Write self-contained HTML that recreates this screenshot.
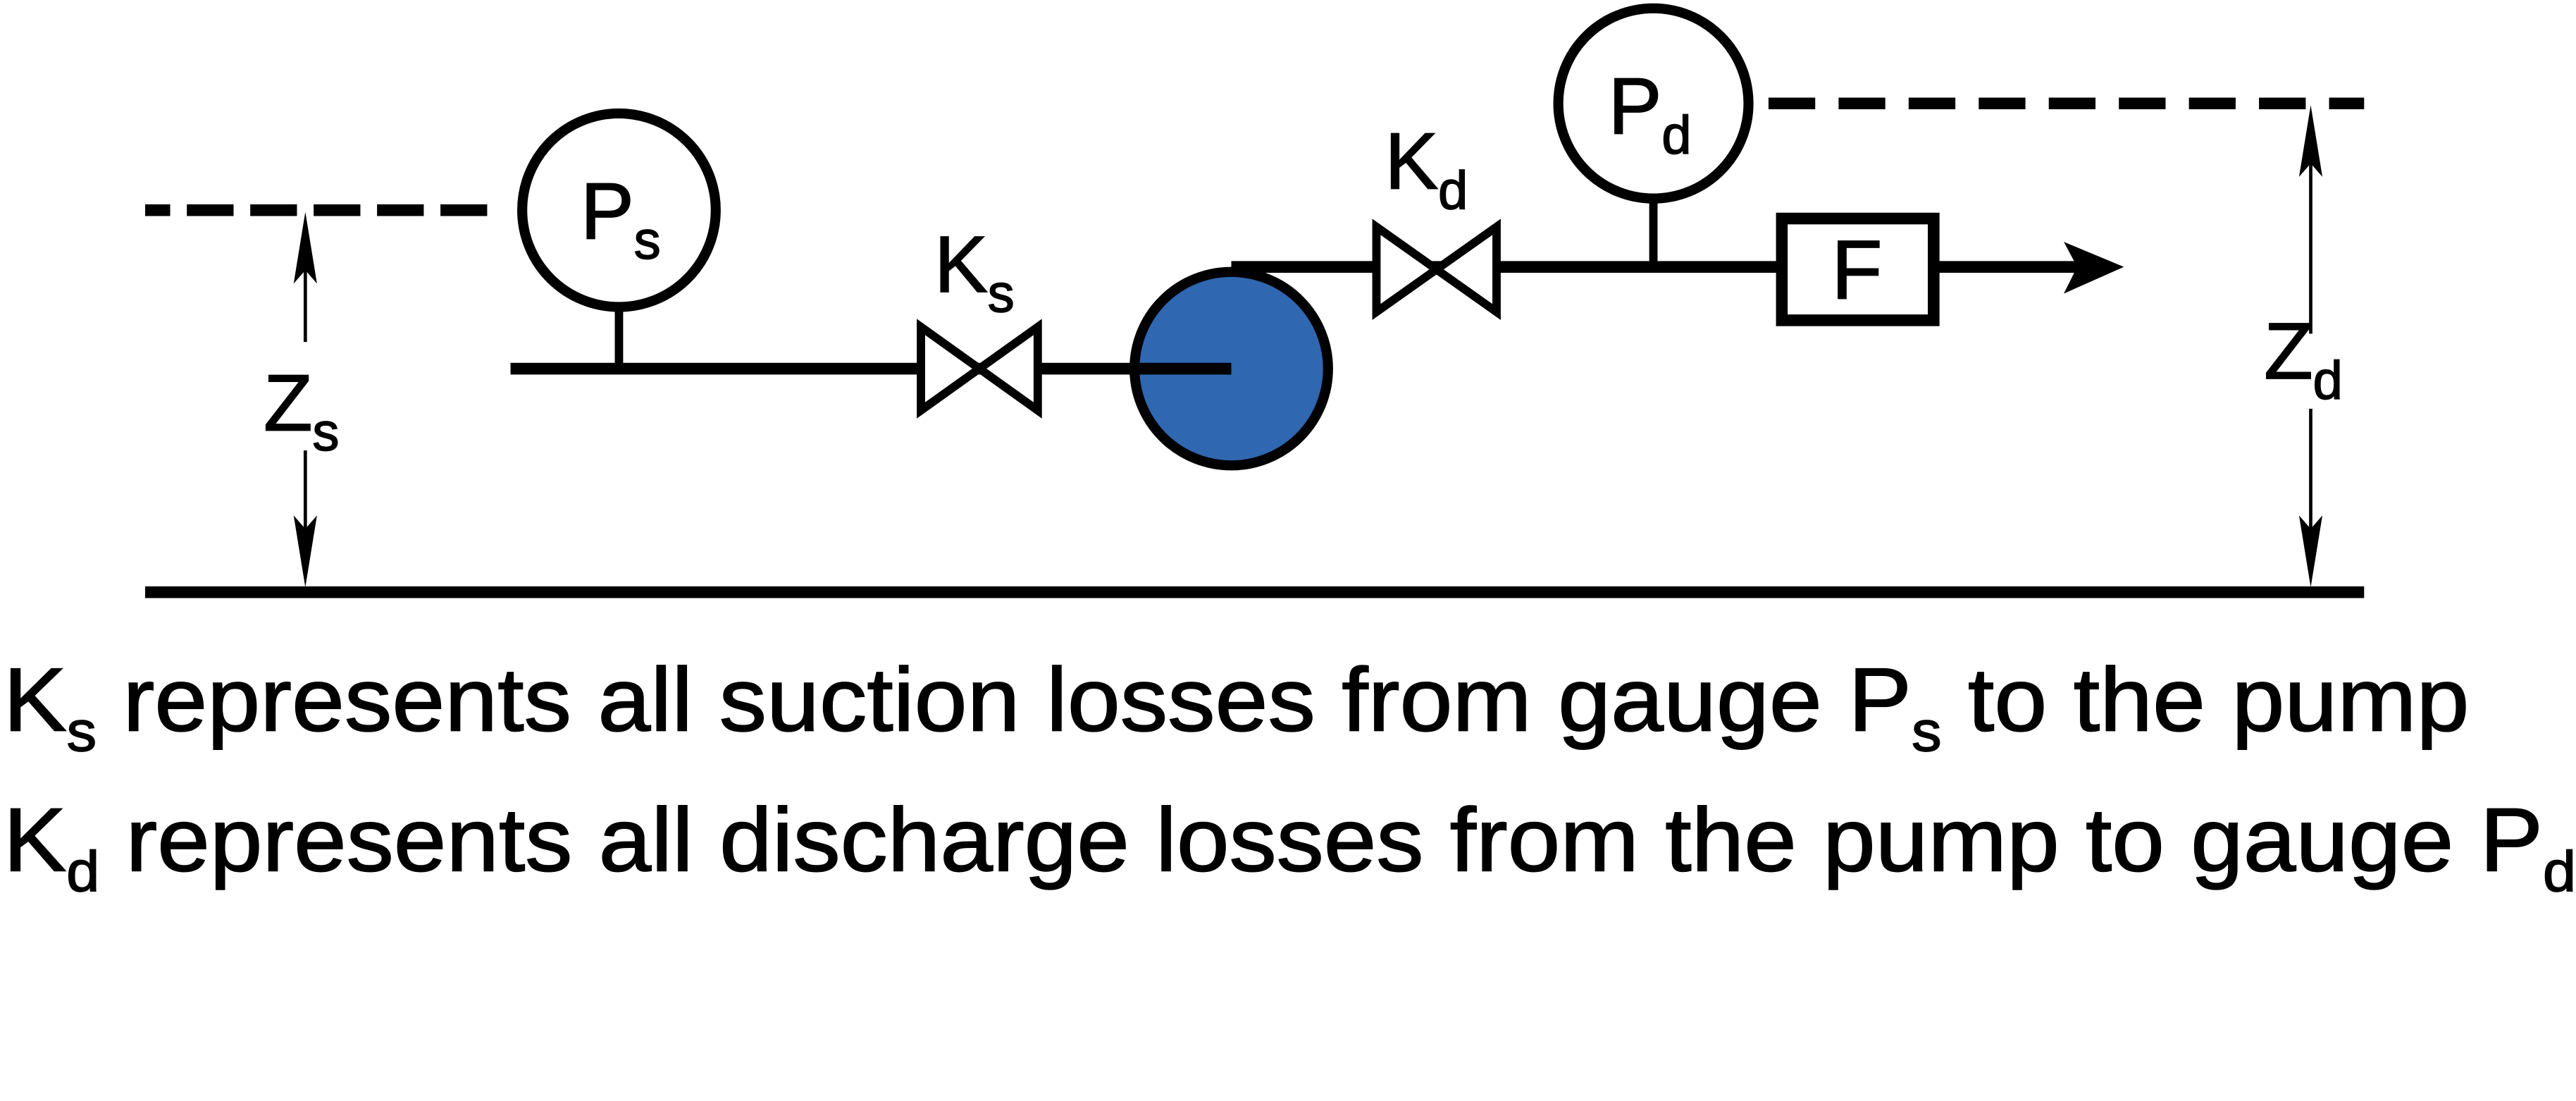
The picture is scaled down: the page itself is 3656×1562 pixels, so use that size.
<!DOCTYPE html>
<html><head><meta charset="utf-8"><style>
html,body{margin:0;padding:0;background:#fff;}
svg{display:block;}
text{font-family:"Liberation Sans",Arial,sans-serif;fill:#000;stroke:#000;stroke-width:0.7;}
</style></head><body>
<svg width="3656" height="1562" viewBox="0 0 1544 660" preserveAspectRatio="none" xmlns="http://www.w3.org/2000/svg">
<rect width="1544" height="660" fill="#fff"/>
<line x1="87" y1="355" x2="1417" y2="355" stroke="#000" stroke-width="7"/>
<line x1="87" y1="126" x2="302" y2="126" stroke="#000" stroke-width="7" stroke-dasharray="15 10 28 10 28 10 28 10 28 10 28 10"/>
<line x1="1060" y1="62" x2="1417" y2="62" stroke="#000" stroke-width="7" stroke-dasharray="28 14"/>
<line x1="306" y1="221" x2="737" y2="221" stroke="#000" stroke-width="7"/>
<line x1="371" y1="184" x2="371" y2="221" stroke="#000" stroke-width="5"/>
<circle cx="371" cy="126" r="58" fill="#fff" stroke="#000" stroke-width="6"/>
<text x="348" y="143" font-size="48">P<tspan font-size="32" dy="12">s</tspan></text>
<polygon points="552,196 622,246 622,196 552,246" fill="#fff" stroke="#000" stroke-width="5" stroke-linejoin="miter"/>
<text x="560" y="175" font-size="48">K<tspan font-size="32" dy="12">s</tspan></text>
<line x1="738" y1="160" x2="1066" y2="160" stroke="#000" stroke-width="7"/>
<circle cx="738" cy="221" r="58" fill="#2f67b1" stroke="#000" stroke-width="6"/>
<line x1="680" y1="221" x2="738" y2="221" stroke="#000" stroke-width="7"/>
<polygon points="825,136 897,187 897,136 825,187" fill="#fff" stroke="#000" stroke-width="5"/>
<text x="830" y="113" font-size="48">K<tspan font-size="32" dy="12">d</tspan></text>
<line x1="991" y1="118" x2="991" y2="160" stroke="#000" stroke-width="5"/>
<circle cx="991" cy="62" r="57" fill="#fff" stroke="#000" stroke-width="6"/>
<text x="964" y="80" font-size="48">P<tspan font-size="32" dy="12">d</tspan></text>
<rect x="1068" y="131" width="91" height="61" fill="#fff" stroke="#000" stroke-width="7"/>
<text x="1113" y="179" font-size="50" text-anchor="middle">F</text>
<line x1="1160" y1="160" x2="1250" y2="160" stroke="#000" stroke-width="7"/>
<polygon points="1273,160 1237,145 1245,160 1237,176" fill="#000"/>
<line x1="183" y1="135" x2="183" y2="205" stroke="#000" stroke-width="2"/>
<polygon points="183,127 190,170 183,162 176,170" fill="#000"/>
<text x="158" y="258" font-size="48">Z<tspan font-size="32" dy="12">s</tspan></text>
<line x1="183" y1="270" x2="183" y2="345" stroke="#000" stroke-width="2"/>
<polygon points="183,352 190,309 183,317 176,309" fill="#000"/>
<line x1="1385" y1="70" x2="1385" y2="200" stroke="#000" stroke-width="2"/>
<polygon points="1385,63 1392,106 1385,98 1378,106" fill="#000"/>
<text x="1357" y="227" font-size="48">Z<tspan font-size="32" dy="12">d</tspan></text>
<line x1="1385" y1="245" x2="1385" y2="345" stroke="#000" stroke-width="2"/>
<polygon points="1385,352 1392,309 1385,317 1378,309" fill="#000"/>
<text x="2" y="438" font-size="54" textLength="1478" lengthAdjust="spacingAndGlyphs">K<tspan font-size="34" dy="12">s</tspan><tspan dy="-12"> represents all suction losses from gauge P</tspan><tspan font-size="34" dy="12">s</tspan><tspan dy="-12"> to the pump</tspan></text>
<text x="2" y="522" font-size="54" textLength="1542" lengthAdjust="spacingAndGlyphs">K<tspan font-size="34" dy="12">d</tspan><tspan dy="-12"> represents all discharge losses from the pump to gauge P</tspan><tspan font-size="34" dy="12">d</tspan></text>
</svg>
</body></html>
